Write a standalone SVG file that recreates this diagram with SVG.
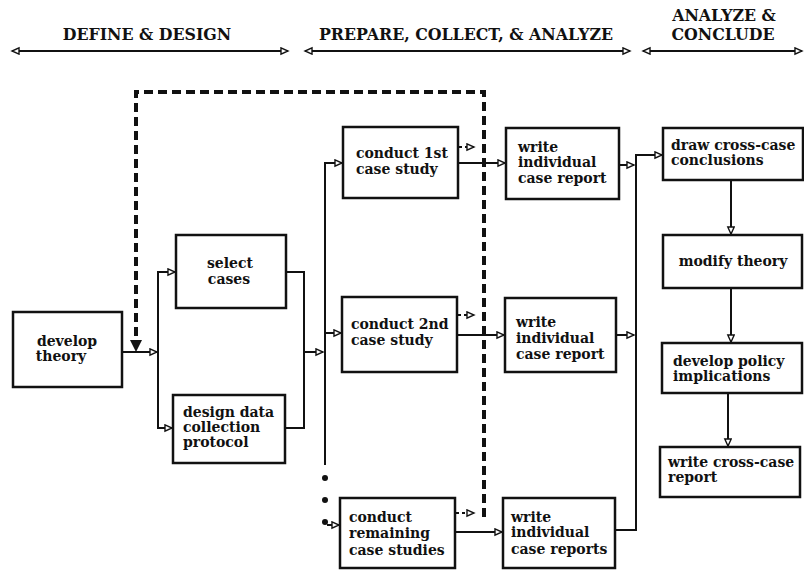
<svg xmlns="http://www.w3.org/2000/svg" width="804" height="570" viewBox="0 0 804 570">
<style>
text{font-family:"DejaVu Serif","Liberation Serif",serif;font-weight:bold;fill:#111}
.h{font-size:15.8px}
.n{font-size:14px}
.box{fill:#fff;stroke:#111;stroke-width:2.5}
.c{fill:none;stroke:#111;stroke-width:2}
.dash{fill:none;stroke:#111;stroke-width:4;stroke-dasharray:9 5}
.stub{fill:none;stroke:#111;stroke-width:2;stroke-dasharray:3 3}
</style>
<defs>
<marker id="a" markerUnits="userSpaceOnUse" markerWidth="10" markerHeight="10" refX="8" refY="4" orient="auto-start-reverse">
<path d="M1,0.8 L8,4 L1,7.2 z" fill="#fff" stroke="#111" stroke-width="1.4"/>
</marker>
</defs>
<rect width="804" height="570" fill="#fff"/>
<g id="header">
<text class="h" x="147" y="40" text-anchor="middle">DEFINE &amp; DESIGN</text>
<text class="h" x="466" y="40" text-anchor="middle">PREPARE, COLLECT, &amp; ANALYZE</text>
<text class="h" x="724" y="21" text-anchor="middle">ANALYZE &amp;</text>
<text class="h" x="723" y="40" text-anchor="middle">CONCLUDE</text>
<path class="c" d="M12,51 H288" marker-start="url(#a)" marker-end="url(#a)"/>
<path class="c" d="M305,51 H630" marker-start="url(#a)" marker-end="url(#a)"/>
<path class="c" d="M643,51 H802" marker-start="url(#a)" marker-end="url(#a)"/>
</g>
<g id="connectors">
<path class="c" d="M122,352 H157" marker-end="url(#a)"/>
<path class="c" d="M158,352 V272 H175" marker-end="url(#a)"/>
<path class="c" d="M158,352 V428 H172" marker-end="url(#a)"/>
<path class="c" d="M286,272 H304 V428 H285"/>
<path class="c" d="M304,352 H323" marker-end="url(#a)"/>
<path class="c" d="M325,465 V163 H342" marker-end="url(#a)"/>
<path class="c" d="M325,333 H341" marker-end="url(#a)"/>
<circle cx="325" cy="478" r="3" fill="#111"/>
<circle cx="325" cy="500" r="3" fill="#111"/>
<circle cx="325" cy="522" r="3" fill="#111"/>
<path class="c" d="M327,525 H339" marker-end="url(#a)"/>
<path class="c" d="M458,163 H505" marker-end="url(#a)"/>
<path class="c" d="M457,335 H504" marker-end="url(#a)"/>
<path class="c" d="M455,532 H502" marker-end="url(#a)"/>
<path class="stub" d="M459,147 H474" marker-end="url(#a)"/>
<path class="stub" d="M458,315 H474" marker-end="url(#a)"/>
<path class="stub" d="M456,513 H474" marker-end="url(#a)"/>
<path class="c" d="M619,165 H634" marker-end="url(#a)"/>
<path class="c" d="M616,335 H634" marker-end="url(#a)"/>
<path class="c" d="M615,530 H636 V155 H662" marker-end="url(#a)"/>
<path class="c" d="M731,180 V234" marker-end="url(#a)"/>
<path class="c" d="M731,288 V342" marker-end="url(#a)"/>
<path class="c" d="M728,393 V446" marker-end="url(#a)"/>
<path class="dash" d="M484,517 V92 H136 V340"/>
<path d="M130,340 L142,340 L136,352 z" fill="#111"/>
</g>
<g id="develop-theory">
<rect class="box" x="13" y="312" width="109" height="75"/>
<text class="n" x="67" y="346" text-anchor="middle">develop</text>
<text class="n" x="61" y="361" text-anchor="middle">theory</text>
</g>
<g id="select-cases">
<rect class="box" x="176" y="235" width="110" height="73"/>
<text class="n" x="230" y="268" text-anchor="middle">select</text>
<text class="n" x="229" y="284" text-anchor="middle">cases</text>
</g>
<g id="design-protocol">
<rect class="box" x="173" y="395" width="112" height="68"/>
<text class="n" x="183" y="417">design data</text>
<text class="n" x="183" y="432">collection</text>
<text class="n" x="183" y="447">protocol</text>
</g>
<g id="conduct-1st">
<rect class="box" x="343" y="127" width="115" height="71"/>
<text class="n" x="356" y="158">conduct 1st</text>
<text class="n" x="356" y="174">case study</text>
</g>
<g id="conduct-2nd">
<rect class="box" x="342" y="297" width="115" height="75"/>
<text class="n" x="351" y="329">conduct 2nd</text>
<text class="n" x="351" y="345">case study</text>
</g>
<g id="conduct-remaining">
<rect class="box" x="340" y="498" width="115" height="70"/>
<text class="n" x="349" y="522">conduct</text>
<text class="n" x="349" y="538">remaining</text>
<text class="n" x="349" y="555">case studies</text>
</g>
<g id="write-1">
<rect class="box" x="506" y="128" width="113" height="71"/>
<text class="n" x="518" y="152">write</text>
<text class="n" x="518" y="167">individual</text>
<text class="n" x="518" y="183">case report</text>
</g>
<g id="write-2">
<rect class="box" x="505" y="298" width="111" height="74"/>
<text class="n" x="516" y="327">write</text>
<text class="n" x="516" y="343">individual</text>
<text class="n" x="516" y="359">case report</text>
</g>
<g id="write-3">
<rect class="box" x="503" y="498" width="112" height="70"/>
<text class="n" x="511" y="522">write</text>
<text class="n" x="511" y="537">individual</text>
<text class="n" x="511" y="554">case reports</text>
</g>
<g id="draw-conclusions">
<rect class="box" x="663" y="128" width="140" height="52"/>
<text class="n" x="671" y="150">draw cross-case</text>
<text class="n" x="671" y="165">conclusions</text>
</g>
<g id="modify-theory">
<rect class="box" x="663" y="235" width="139" height="53"/>
<text class="n" x="733" y="266" text-anchor="middle">modify theory</text>
</g>
<g id="develop-policy">
<rect class="box" x="662" y="343" width="140" height="50"/>
<text class="n" x="673" y="366">develop policy</text>
<text class="n" x="673" y="381">implications</text>
</g>
<g id="write-cross-case">
<rect class="box" x="660" y="447" width="140" height="50"/>
<text class="n" x="668" y="467">write cross-case</text>
<text class="n" x="668" y="482">report</text>
</g>
</svg>
